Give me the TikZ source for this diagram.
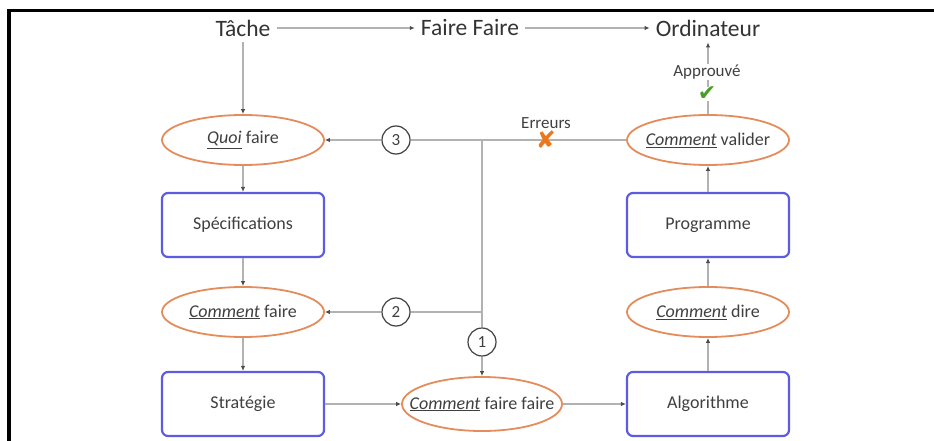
\documentclass[tikz,border=0pt]{standalone}
\usepackage{fontspec}
\setmainfont{Carlito}
\newfontfamily\symfont{DejaVu Sans}
\usetikzlibrary{positioning, shapes.geometric, arrows.meta}

\definecolor{ovalorange}{RGB}{228,140,92}
\definecolor{boxblue}{RGB}{92,92,226}
\definecolor{okgreen}{RGB}{70,160,40}
\definecolor{errorange}{RGB}{236,120,30}

\begin{document}
\begin{tikzpicture}[x=1pt, y=-1pt,
  title/.style={font=\fontsize{23.5}{26}\selectfont, text=black!80, inner sep=6pt},
  oval/.style={draw=ovalorange, ellipse, line width=1.8pt, fill=white,
               minimum width=162pt, minimum height=50pt,
               inner xsep=-30pt, inner ysep=0pt,
               font=\fontsize{18}{20}\selectfont, text=black!75},
  stage/.style={draw=boxblue, rounded corners=6pt, line width=2.2pt, fill=white,
                minimum width=162pt, minimum height=64pt, inner sep=0pt,
                font=\fontsize{18}{20}\selectfont, text=black!75},
  num/.style={draw=black!75, circle, line width=1.2pt, minimum size=28pt,
              inner sep=0pt, font=\fontsize{17}{19}\selectfont, text=black!75},
  note/.style={font=\fontsize{17}{19}\selectfont, text=black!75, inner sep=1pt},
  link/.style={draw=black!30, line width=1.2pt},
  arr/.style={link, -{Latex[length=5pt, width=4.5pt]}, arrows={[color=black!70]}},
]
\useasboundingbox (0,0) rectangle (934,441);

%% ---- Frame ----
\draw[line width=3.5pt] (9,441) -- (9,10.5) -- (934,10.5);

%% ---- Titles ----
\node[title] (tache) at (243,28) {Tâche};
\node[title] (faire) at (470,28) {Faire Faire};
\node[title] (ordi)  at (708,28) {Ordinateur};

\draw[arr] (tache) -- (faire);
\draw[arr] (faire) -- (ordi);

%% ---- Left column ----
\node[oval] (quoi) at (243,140) {\underline{\textit{Quoi}} faire};
\node[stage, below=26pt of quoi] (spec) {Spécifications};
\node[oval, below=28pt of spec] (cfaire) {\underline{\textit{Comment}} faire};
\node[stage, below=33pt of cfaire] (strat) {Stratégie};

\draw[arr] (tache)  -- (quoi);
\draw[arr] (quoi)   -- (spec);
\draw[arr] (spec)   -- (cfaire);
\draw[arr] (cfaire) -- (strat);

%% ---- Right column (aligned on the left one) ----
\node[stage] (algo)  at (strat -| ordi)  {Algorithme};
\node[oval]  (cdire) at (cfaire -| ordi) {\underline{\textit{Comment}} dire};
\node[stage] (prog)  at (spec -| ordi)   {Programme};
\node[oval]  (cval)  at (quoi -| ordi)   {\underline{\textit{Comment}} valider};

%% ---- Bottom row ----
\coordinate (midcol) at (482,0);
\node[oval, minimum width=160pt, minimum height=54pt] (cff) at (strat -| midcol)
    {\underline{\textit{Comment}} faire faire};

\draw[arr] (strat) -- (cff);
\draw[arr] (cff)   -- (algo);

\draw[arr] (algo)  -- (cdire);
\draw[arr] (cdire) -- (prog);
\draw[arr] (prog)  -- (cval);
\draw[arr] (cval)  -- (ordi);

\node[note, fill=white] (appr) at (707,72) {Approuvé};
\node[font=\symfont\fontsize{22}{24}\selectfont, text=okgreen, fill=white,
      inner sep=0pt] (check) at (707,94) {✔};

%% ---- Feedback from errors ----
\coordinate (numcol) at (396,0);
\coordinate (errcol) at (546,0);
\coordinate (split)  at (quoi -| midcol);
\coordinate (split2) at (cfaire -| midcol);
\node[num] (n3) at (quoi -| numcol)   {3};
\node[num] (n2) at (cfaire -| numcol) {2};
\node[num] (n1) at (482,342)          {1};

\draw[link] (cval) -- (split);
\draw[arr]  (split) -- (n3) -- (quoi);
\draw[link] (split) -- (split2);
\draw[arr]  (split2) -- (n2) -- (cfaire);
\draw[arr]  (split2) -- (n1) -- (cff);

\node[font=\symfont\fontsize{24}{26}\selectfont, text=errorange, inner sep=0pt]
    (err) at (cval -| errcol) {✘};
\node[note, above=1pt of err] (erreurs) {Erreurs};

\end{tikzpicture}
\end{document}
